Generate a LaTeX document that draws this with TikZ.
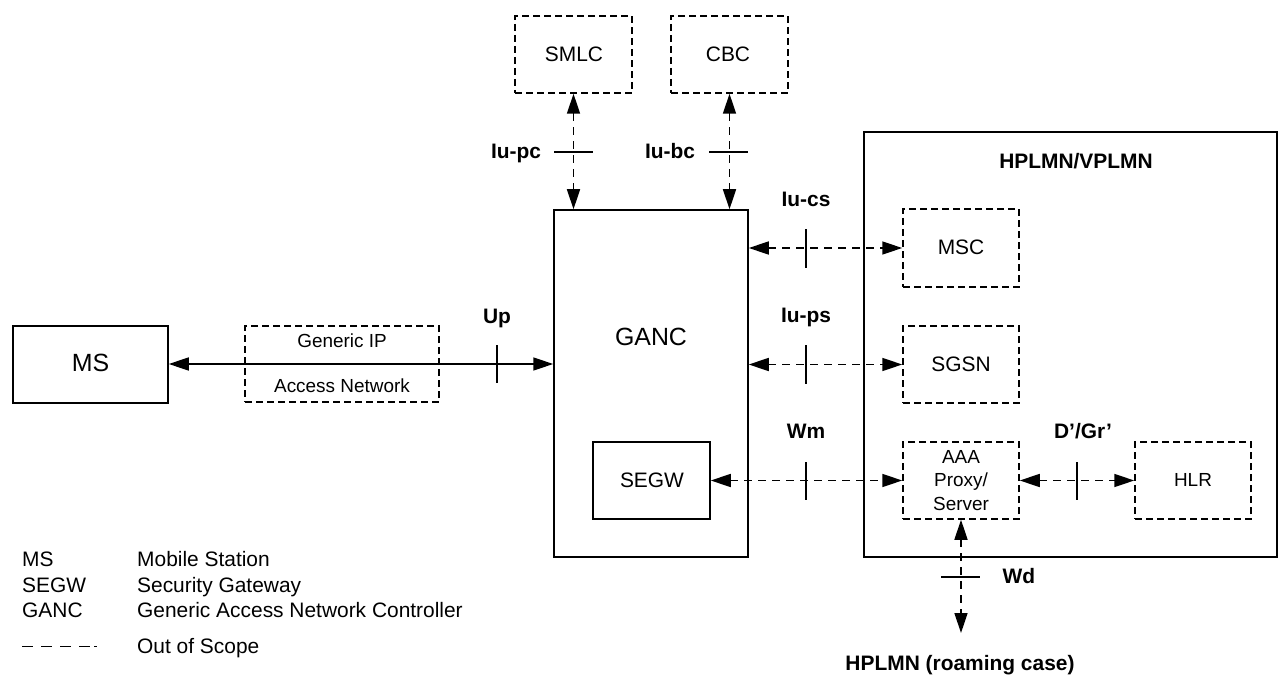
\documentclass[tikz,border=0pt]{standalone}
\usepackage{fontspec}
\setmainfont{Liberation Sans}
\usetikzlibrary{arrows.meta}
\begin{document}
\begin{tikzpicture}[x=1bp,y=-1bp,
  box/.style={draw, line width=1.5bp, inner sep=0pt},
  oos/.style={box, dash pattern=on 7bp off 4bp},
  conn/.style={line width=1.5bp, {Triangle[length=20bp,width=13bp]}-{Triangle[length=20bp,width=13bp]}},
  dconn/.style={conn, dash pattern=on 8bp off 6bp},
  tickline/.style={line width=1.5bp},
  txt/.style={inner sep=0pt, anchor=base},
  ifl/.style={txt, font=\fontsize{21}{25}\selectfont\bfseries},
  big/.style={txt, font=\fontsize{25}{30}\selectfont},
  mid/.style={txt, font=\fontsize{21}{25}\selectfont},
  sml/.style={txt, font=\fontsize{19}{23}\selectfont},
  leg/.style={inner sep=0pt, anchor=base west, font=\fontsize{21}{25}\selectfont}
]
\useasboundingbox (0,0) rectangle (1278,675);

% boxes
\node[box, minimum width=155bp, minimum height=77bp] (ms) at (90.5,364.5) {};
\node[oos, minimum width=194bp, minimum height=76bp] (gip) at (342,364) {};
\node[box, minimum width=194bp, minimum height=347bp] (ganc) at (651,383.5) {};
\node[box, minimum width=117bp, minimum height=77bp] (segw) at (651.5,480.5) {};
\node[oos, minimum width=117bp, minimum height=77bp] (smlc) at (573.5,54.5) {};
\node[oos, minimum width=117bp, minimum height=77bp] (cbc) at (729.5,54.5) {};
\node[box, minimum width=413bp, minimum height=425bp] (hplmn) at (1070.5,344.5) {};
\node[oos, minimum width=116bp, minimum height=78bp] (msc) at (961,248) {};
\node[oos, minimum width=116bp, minimum height=77bp] (sgsn) at (961,364.5) {};
\node[oos, minimum width=116bp, minimum height=77bp] (aaa) at (961,480.5) {};
\node[oos, minimum width=116bp, minimum height=77bp] (hlr) at (1193,480.5) {};
\coordinate (roam) at (961,633);

% box texts
\node[big] (msT) at (90.5,371.7) {MS};
\node[sml] (gipT1) at (342,347.3) {Generic IP};
\node[sml] (gipT2) at (342,392.3) {Access Network};
\node[big] (gancT) at (651,345) {GANC};
\node[mid] (segwT) at (652,487.3) {SEGW};
\node[mid] (smlcT) at (574,61.7) {SMLC};
\node[mid] (cbcT) at (728,61.7) {CBC};
\node[mid] (mscT) at (961,255) {MSC};
\node[mid] (sgsnT) at (961,371.7) {SGSN};
\node[sml] (aaaT1) at (961,463.3) {AAA};
\node[sml] (aaaT2) at (961,486.7) {Proxy/};
\node[sml] (aaaT3) at (961,510) {Server};
\node[sml] (hlrT) at (1193,486.7) {HLR};
\node[ifl] (hplmnT) at (1076,168.3) {HPLMN/VPLMN};

% connectors
\draw[conn] (ms.east |- 0,364) -- (ganc.west |- 0,364);
\draw[dconn] (smlc.south) -- (smlc.south |- ganc.north);
\draw[dconn] (cbc.south) -- (cbc.south |- ganc.north);
\draw[dconn] (msc.west -| ganc.east) -- (msc.west);
\draw[dconn] (sgsn.west -| ganc.east) -- (sgsn.west);
\draw[dconn] (segw.east) -- (aaa.west);
\draw[dconn] (aaa.east) -- (hlr.west);
\draw[dconn] (aaa.south) -- (roam);

% ticks
\draw[tickline] (497,345) -- (497,383);
\draw[tickline] (554,152) -- (593,152);
\draw[tickline] (709,152) -- (748,152);
\draw[tickline] (806,229) -- (806,268);
\draw[tickline] (806,345) -- (806,384);
\draw[tickline] (806,462) -- (806,500);
\draw[tickline] (1077,462) -- (1077,500);
\draw[tickline] (941,577) -- (980,577);

% interface labels
\node[ifl] (up) at (497,323.3) {Up};
\node[ifl] (iupc) at (516,158.3) {Iu-pc};
\node[ifl] (iubc) at (670,158.3) {Iu-bc};
\node[ifl] (iucs) at (806,206.7) {Iu-cs};
\node[ifl] (iups) at (806,322.7) {Iu-ps};
\node[ifl] (wm) at (806,438.3) {Wm};
\node[ifl] (dgr) at (1083,438.3) {D’/Gr’};
\node[ifl] (wd) at (1019,583.3) {Wd};
\node[ifl] (roamT) at (960,670) {HPLMN (roaming case)};

% legend
\node[leg] (l1a) at (22,566.7) {MS};
\node[leg] (l1b) at (137,566.7) {Mobile Station};
\node[leg] (l2a) at (22,592.7) {SEGW};
\node[leg] (l2b) at (137,592.7) {Security Gateway};
\node[leg] (l3a) at (22,617.3) {GANC};
\node[leg] (l3b) at (137,617.3) {Generic Access Network Controller};
\draw[line width=1.3bp, dash pattern=on 11bp off 8bp on 11bp off 8bp on 11bp off 8bp on 11bp off 4bp on 3bp off 100bp] (22,646.7) -- (97,646.7);
\node[leg] (l4b) at (137,653) {Out of Scope};
\end{tikzpicture}
\end{document}
